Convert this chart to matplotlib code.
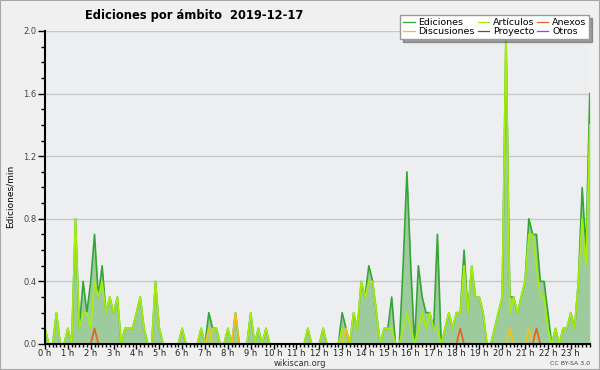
import numpy as np
import matplotlib
matplotlib.use("Agg")
import matplotlib.pyplot as plt
from matplotlib.patches import Rectangle


# ==========================================================
# Data (edits per minute, 10-minute bins, 2019-12-17)
# ==========================================================

hour_labels = [f"{h} h" for h in range(24)]

ediciones = [
    0.1, 0, 0, 0.2, 0, 0, 0.1, 0, 0.8, 0.1, 0.4, 0.2,
    0.4, 0.7, 0.3, 0.5, 0.2, 0.3, 0.2, 0.3, 0, 0.1, 0.1, 0.1,
    0.2, 0.3, 0.1, 0, 0, 0.4, 0.1, 0, 0, 0, 0, 0,
    0.1, 0, 0, 0, 0, 0.1, 0, 0.2, 0.1, 0.1, 0, 0,
    0.1, 0, 0.2, 0, 0, 0, 0.2, 0, 0.1, 0, 0.1, 0,
    0, 0, 0, 0, 0, 0, 0, 0, 0, 0.1, 0, 0,
    0, 0.1, 0, 0, 0, 0, 0.2, 0.1, 0, 0.2, 0.1, 0.4,
    0.3, 0.5, 0.4, 0.2, 0, 0.1, 0.1, 0.3, 0, 0, 0.5, 1.1,
    0.5, 0, 0.5, 0.3, 0.2, 0.2, 0.1, 0.7, 0, 0.1, 0.2, 0.1,
    0.2, 0.2, 0.6, 0.2, 0.5, 0.3, 0.3, 0.2, 0, 0, 0.1, 0.2,
    0.3, 2.0, 0.3, 0.3, 0.2, 0.3, 0.4, 0.8, 0.7, 0.7, 0.4, 0.4,
    0.2, 0, 0.1, 0, 0.1, 0.1, 0.2, 0.1, 0.4, 1.0, 0.6, 1.6,
]

articulos = [
    0.1, 0, 0, 0.2, 0, 0, 0.1, 0, 0.8, 0.1, 0.2, 0.2,
    0.1, 0.4, 0.3, 0.4, 0.2, 0.3, 0.2, 0.3, 0, 0.1, 0.1, 0.1,
    0.2, 0.3, 0.1, 0, 0, 0.4, 0.1, 0, 0, 0, 0, 0,
    0.1, 0, 0, 0, 0, 0.1, 0, 0, 0.1, 0.1, 0, 0,
    0.1, 0, 0, 0, 0, 0, 0.2, 0, 0.1, 0, 0.1, 0,
    0, 0, 0, 0, 0, 0, 0, 0, 0, 0.1, 0, 0,
    0, 0.1, 0, 0, 0, 0, 0.1, 0, 0, 0.2, 0.1, 0.4,
    0.3, 0.4, 0.4, 0.2, 0, 0.1, 0.1, 0.1, 0, 0, 0.1, 0.2,
    0.1, 0, 0.1, 0.2, 0.1, 0.2, 0.1, 0.1, 0, 0.1, 0.2, 0.1,
    0.2, 0.2, 0.5, 0.2, 0.5, 0.3, 0.3, 0.2, 0, 0, 0.1, 0.2,
    0.3, 2.0, 0.2, 0.3, 0.2, 0.3, 0.4, 0.7, 0.7, 0.5, 0.3, 0.3,
    0.1, 0, 0.1, 0, 0.1, 0.1, 0.2, 0.1, 0.4, 0.8, 0.5, 1.4,
]

# sparse series: {bin index: value}
discusiones_pts = {43: 0.1, 50: 0.2, 79: 0.1, 122: 0.1, 127: 0.1}
anexos_pts = {13: 0.1, 109: 0.1, 129: 0.1}
proyecto_pts = {}
otros_pts = {}

n_bins = len(ediciones)


def sparse(points):
    arr = np.zeros(n_bins)
    for i, v in points.items():
        arr[i] = v
    return arr


discusiones = sparse(discusiones_pts)
anexos = sparse(anexos_pts)
proyecto = sparse(proyecto_pts)
otros = sparse(otros_pts)

hours = np.arange(n_bins) / 6.0

# ==========================================================
# Figure
# ==========================================================

fig = plt.figure(figsize=(6, 3.7), dpi=100, facecolor="#f0f0f0")
fig.patches.append(Rectangle((0, 0), 1, 1, transform=fig.transFigure,
                             fill=False, edgecolor="#a8a8a8", linewidth=1.5))
ax = fig.add_axes([0.075, 0.0703, 0.908, 0.846])
ax.set_facecolor("#edeef0")

ax.fill_between(hours, 0, ediciones, color="#9ecb9e", linewidth=0, zorder=2)
l_ed, = ax.plot(hours, ediciones, color="#35a535", lw=1.2, zorder=3)
l_pr, = ax.plot(hours, proyecto, color="#555555", lw=1.2, zorder=3)
l_ot, = ax.plot(hours, otros, color="#9944dd", lw=1.2, zorder=3)
l_ar, = ax.plot(hours, articulos, color="#a6ee0a", lw=1.2, zorder=4)
l_di, = ax.plot(hours, discusiones, color="#f5c21b", lw=1.2, zorder=5)
l_an, = ax.plot(hours, anexos, color="#ec5f1a", lw=1.2, zorder=5)

ax.set_xlim(0, hours[-1])
ax.set_ylim(0, 2.0)

ax.set_xticks(np.arange(24))
ax.set_xticklabels(hour_labels)
ax.set_xticks(hours, minor=True)
yt = np.arange(0, 2.01, 0.4)
ax.set_yticks(yt)
ax.set_yticklabels([f"{v:.1f}" for v in yt])
ax.set_yticks(np.arange(0, 2.01, 0.1), minor=True)

ax.tick_params(axis="y", which="major", length=5, width=1, direction="out",
               labelsize=6, labelcolor="#444444", pad=1)
ax.tick_params(axis="y", which="minor", length=3, width=1, direction="out")
ax.tick_params(axis="x", which="major", length=3.5, width=1, direction="out",
               labelsize=6, labelcolor="#222222", pad=0)
ax.tick_params(axis="x", which="minor", length=2.5, width=1, direction="out")
ax.grid(axis="y", which="major", color="#c8c8c8", lw=1, zorder=1)
ax.set_axisbelow(True)

for s in ["top", "right"]:
    ax.spines[s].set_visible(False)
for s in ["left", "bottom"]:
    ax.spines[s].set_linewidth(1.5)
    ax.spines[s].set_zorder(10)

fig.text(0.142, 0.957, "Ediciones por ámbito  2019-12-17",
         fontsize=8.3, fontweight="bold", ha="left", va="center")
fig.text(0.017, 0.468, "Ediciones/min", rotation=90, fontsize=6.5,
         ha="center", va="center")
fig.text(0.5, 0.017, "wikiscan.org", fontsize=6, ha="center",
         va="center", color="#333333")
fig.text(0.983, 0.017, "CC BY-SA 3.0", fontsize=4.5, ha="right",
         va="center", color="#444444")

handles = [l_ed, l_di, l_ar, l_pr, l_an, l_ot]
labels = ["Ediciones", "Discusiones", "Artículos", "Proyecto", "Anexos", "Otros"]
leg = fig.legend(handles, labels, ncol=3, loc="upper right",
                 bbox_to_anchor=(0.99, 0.972), fontsize=6.8, frameon=True,
                 shadow=True, fancybox=False, edgecolor="#999999",
                 framealpha=1, handlelength=1.2, handletextpad=0.4,
                 columnspacing=0.3, labelspacing=0.05, borderpad=0.3)
leg.get_frame().set_linewidth(1)
for h in leg.get_lines():
    h.set_linewidth(0.9)

fig.savefig("out.png", dpi=100, facecolor=fig.get_facecolor())
